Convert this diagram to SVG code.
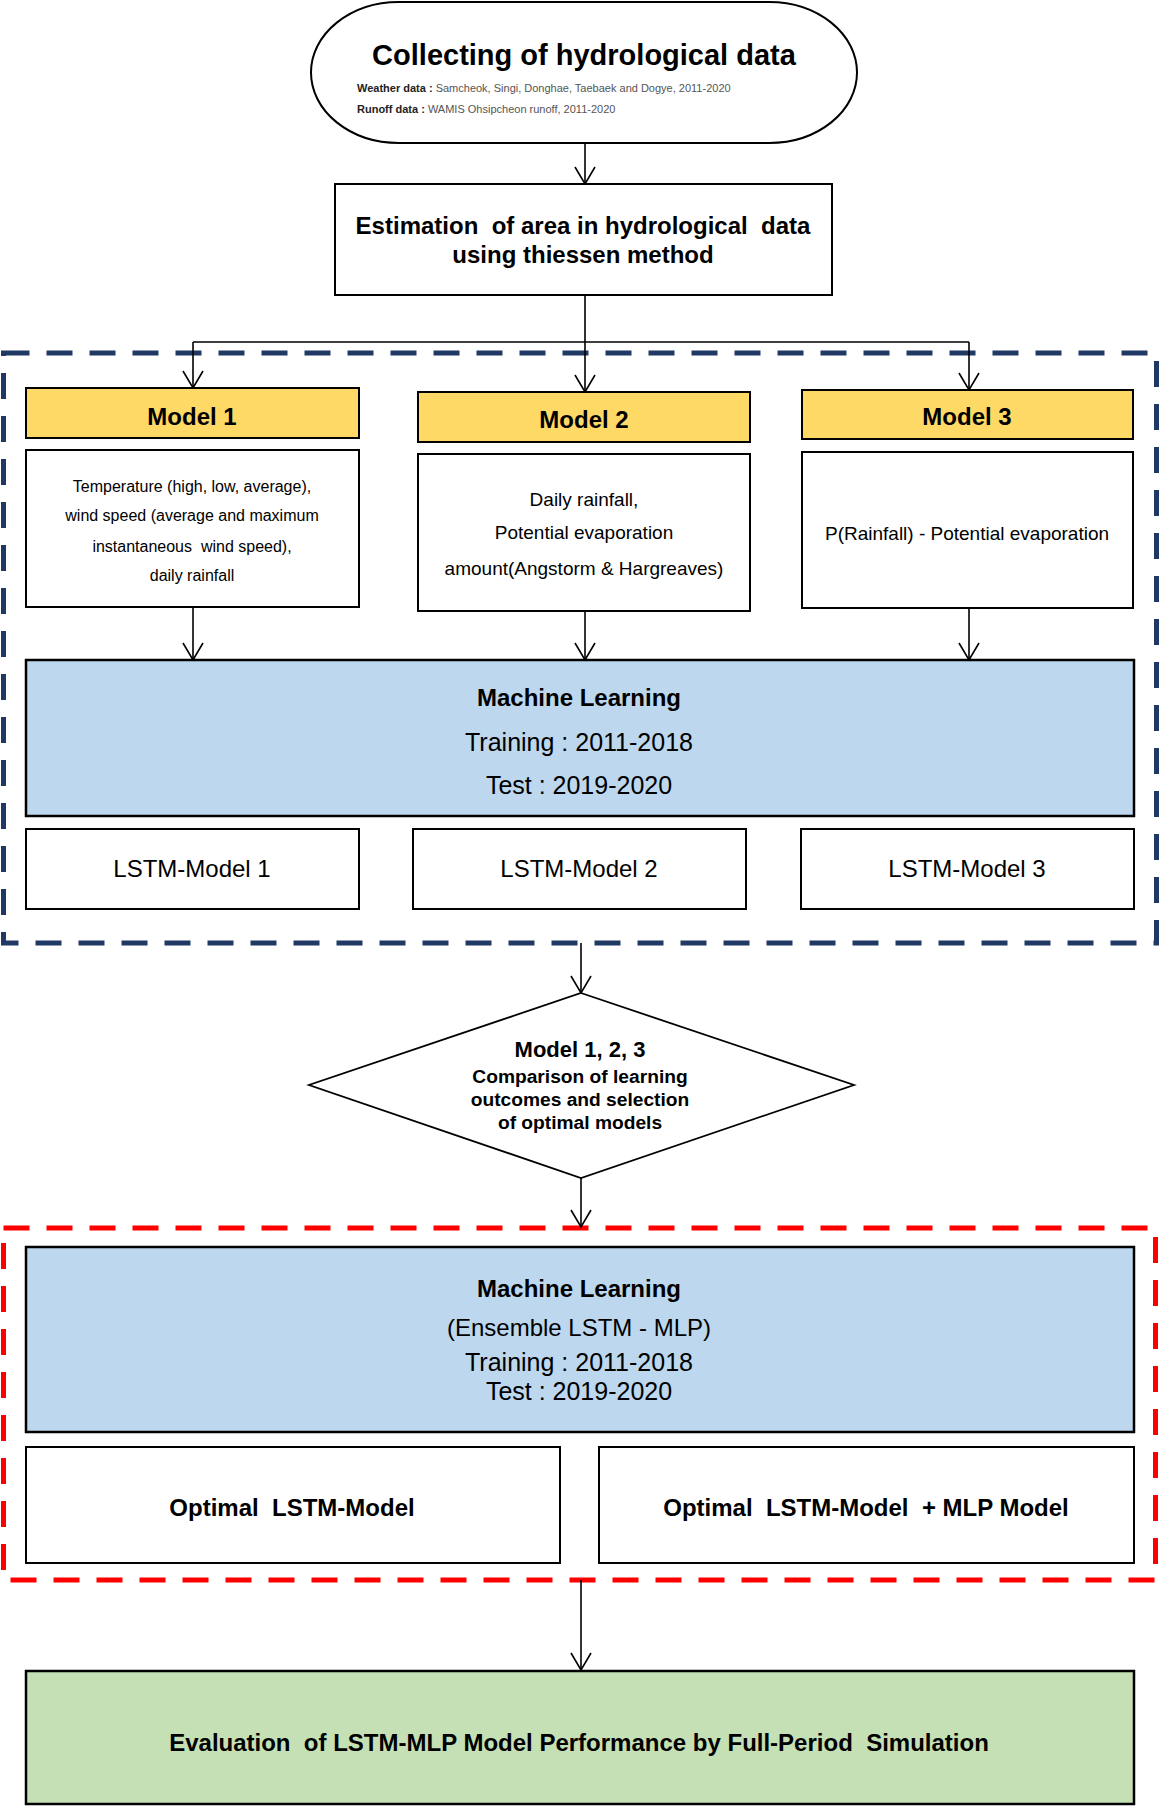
<svg xmlns="http://www.w3.org/2000/svg" width="1160" height="1806" viewBox="0 0 1160 1806">
<style>
text{font-family:"Liberation Sans",Arial,sans-serif;fill:#000;text-anchor:middle}
.b{font-weight:bold}
.box{fill:#fff;stroke:#000;stroke-width:2}
.yel{fill:#FFD966;stroke:#000;stroke-width:2}
.blue{fill:#BDD7EE;stroke:#000;stroke-width:2.5}
.green{fill:#C5E0B4;stroke:#000;stroke-width:2.5}
.con{fill:none;stroke:#000;stroke-width:1.6}
.arr{marker-end:url(#v)}
.t24{font-size:24px}
</style>
<defs>
<marker id="v" markerUnits="userSpaceOnUse" viewBox="-20 -12 22 24" markerWidth="22" markerHeight="24" refX="0" refY="0" orient="auto" overflow="visible">
<path d="M-17,-10 L0,0 L-17,10" fill="none" stroke="#000" stroke-width="1.6"/>
</marker>
</defs>

<g id="group-navy">
<rect x="3.5" y="353" width="1153" height="590" fill="none" stroke="#1F3864" stroke-width="5" stroke-dasharray="26 17"/>
</g>
<g id="group-red">
<rect x="3.5" y="1228" width="1152" height="352" fill="none" stroke="#FF0000" stroke-width="5" stroke-dasharray="26 17"/>
</g>

<g id="connectors">
<path class="con arr" d="M585,143 V184"/>
<path class="con" d="M585,295 V342 M193,342 H969"/>
<path class="con arr" d="M193,342 V388"/>
<path class="con arr" d="M585,342 V392"/>
<path class="con arr" d="M969,342 V390"/>
<path class="con arr" d="M193,607 V660"/>
<path class="con arr" d="M585,611 V660"/>
<path class="con arr" d="M969,608 V660"/>
<path class="con arr" d="M581,943 V993"/>
<path class="con arr" d="M581,1178 V1227"/>
<path class="con arr" d="M581,1580 V1670"/>
</g>

<g id="node-collect">
<rect x="311" y="2" width="546" height="141" rx="88" ry="70.5" fill="#fff" stroke="#000" stroke-width="2"/>
<text x="584" y="65" class="b" style="font-size:29px">Collecting of hydrological data</text>
<text x="357" y="92" style="font-size:11px;text-anchor:start;fill:#555"><tspan class="b" style="fill:#222">Weather data :</tspan> Samcheok, Singi, Donghae, Taebaek and Dogye, 2011-2020</text>
<text x="357" y="113" style="font-size:11px;text-anchor:start;fill:#555"><tspan class="b" style="fill:#222">Runoff data :</tspan> WAMIS Ohsipcheon runoff, 2011-2020</text>
</g>

<g id="node-estimation">
<rect class="box" x="335" y="184" width="497" height="111"/>
<text x="583" y="234" class="b" style="font-size:24px" xml:space="preserve">Estimation  of area in hydrological  data</text>
<text x="583" y="263" class="b" style="font-size:24px">using thiessen method</text>
</g>

<g id="node-model1">
<rect class="yel" x="26" y="388" width="333" height="50"/>
<text x="192" y="425" class="b t24">Model 1</text>
</g>
<g id="node-model1-desc">
<rect class="box" x="26" y="450" width="333" height="157"/>
<g style="font-size:16px;fill:#222">
<text x="192" y="492">Temperature (high, low, average),</text>
<text x="192" y="521">wind speed (average and maximum</text>
<text x="192" y="552" xml:space="preserve">instantaneous  wind speed),</text>
<text x="192" y="581">daily rainfall</text>
</g>
</g>

<g id="node-model2">
<rect class="yel" x="418" y="392" width="332" height="50"/>
<text x="584" y="428" class="b t24">Model 2</text>
</g>
<g id="node-model2-desc">
<rect class="box" x="418" y="454" width="332" height="157"/>
<g style="font-size:19px">
<text x="584" y="506">Daily rainfall,</text>
<text x="584" y="539">Potential evaporation</text>
<text x="584" y="575">amount(Angstorm &amp; Hargreaves)</text>
</g>
</g>

<g id="node-model3">
<rect class="yel" x="802" y="390" width="331" height="49"/>
<text x="967" y="425" class="b t24">Model 3</text>
</g>
<g id="node-model3-desc">
<rect class="box" x="802" y="452" width="331" height="156"/>
<text x="967" y="540" style="font-size:19px">P(Rainfall) - Potential evaporation</text>
</g>

<g id="node-ml1">
<rect class="blue" x="26" y="660" width="1108" height="156"/>
<text x="579" y="706" class="b t24">Machine Learning</text>
<text x="579" y="751" style="font-size:25px">Training : 2011-2018</text>
<text x="579" y="794" style="font-size:25px">Test : 2019-2020</text>
</g>

<g id="node-lstm1">
<rect class="box" x="26" y="829" width="333" height="80"/>
<text x="192" y="877" class="t24">LSTM-Model 1</text>
</g>
<g id="node-lstm2">
<rect class="box" x="413" y="829" width="333" height="80"/>
<text x="579" y="877" class="t24">LSTM-Model 2</text>
</g>
<g id="node-lstm3">
<rect class="box" x="801" y="829" width="333" height="80"/>
<text x="967" y="877" class="t24">LSTM-Model 3</text>
</g>

<g id="node-compare">
<polygon points="581,993 854,1085 581,1178 309,1085" fill="#fff" stroke="#000" stroke-width="1.8"/>
<text x="580" y="1057" class="b" style="font-size:22px">Model 1, 2, 3</text>
<g class="b" style="font-size:19.2px">
<text x="580" y="1083">Comparison of learning</text>
<text x="580" y="1106">outcomes and selection</text>
<text x="580" y="1129">of optimal models</text>
</g>
</g>

<g id="node-ml2">
<rect class="blue" x="26" y="1247" width="1108" height="185"/>
<text x="579" y="1297" class="b t24">Machine Learning</text>
<text x="579" y="1336" class="t24">(Ensemble LSTM - MLP)</text>
<text x="579" y="1371" style="font-size:25px">Training : 2011-2018</text>
<text x="579" y="1400" style="font-size:25px">Test : 2019-2020</text>
</g>

<g id="node-opt1">
<rect class="box" x="26" y="1447" width="534" height="116"/>
<text x="292" y="1516" class="b t24" xml:space="preserve">Optimal  LSTM-Model</text>
</g>
<g id="node-opt2">
<rect class="box" x="599" y="1447" width="535" height="116"/>
<text x="866" y="1516" class="b t24" xml:space="preserve">Optimal  LSTM-Model  + MLP Model</text>
</g>

<g id="node-eval">
<rect class="green" x="26" y="1671" width="1108" height="133"/>
<text x="579" y="1751" class="b t24" xml:space="preserve">Evaluation  of LSTM-MLP Model Performance by Full-Period  Simulation</text>
</g>
</svg>
